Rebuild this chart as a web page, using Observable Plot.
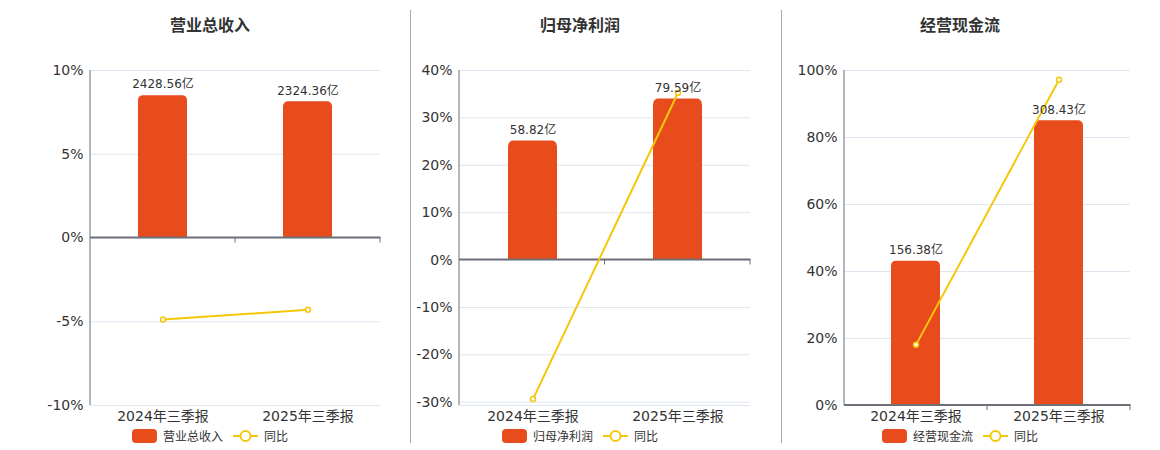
<!DOCTYPE html>
<html>
<head>
<meta charset="utf-8">
<script src="https://cdn.jsdelivr.net/npm/d3@7"></script>
<script src="https://cdn.jsdelivr.net/npm/@observablehq/plot@0.6"></script>
<style>
  html, body { margin: 0; padding: 0; background: #fff; }
  body { width: 1160px; height: 450px; position: relative; overflow: hidden;
         font-family: "DejaVu Sans", "Noto Sans CJK SC", sans-serif; color: #333; }
  .title { position: absolute; top: 12px; font-size: 16px; font-weight: bold; color: #333;
           transform: translateX(-50%); white-space: nowrap; font-family: "Noto Sans CJK SC", sans-serif; }
  .sep { position: absolute; top: 10px; height: 433px; width: 1px; background: #aaa; }
  .panel { position: absolute; top: 50px; }
  .legend { position: absolute; top: 429px; transform: translateX(-50%); display: flex; align-items: center;
            font-size: 12px; color: #333; white-space: nowrap; font-family: "Noto Sans CJK SC", sans-serif; }
  .legend svg { display: block; }
  .legend .lbl { margin-left: 6px; margin-right: 10px; line-height: 14px; }
</style>
</head>
<body>
<script>
// ---- data ----
const categories = ["2024年三季报", "2025年三季报"];

const revenueTitle = "营业总收入";
const revenueValues = [2428.56, 2324.36];
const revenueYoY = [-4.86, -4.29];
const revenueTicks = [-10, -5, 0, 5, 10];
const revenueDomain = [-10, 10];

const profitTitle = "归母净利润";
const profitValues = [58.82, 79.59];
const profitYoY = [-29.35, 35.31];
const profitTicks = [-30, -20, -10, 0, 10, 20, 30, 40];
const profitDomain = [-30.7, 40];

const cashTitle = "经营现金流";
const cashValues = [156.38, 308.43];
const cashYoY = [18.1, 97.23];
const cashTicks = [0, 20, 40, 60, 80, 100];
const cashDomain = [0, 100];

const yoyLabel = "同比";
const unit = "亿";

// ---- styles ----
const barColor = "#e84b1c";
const lineColor = "#f5c70a";
const axisColor = "#6e7079";
const gridColor = "#e0e6f1";

function axesMark(index, scales, values, dims) {
  const g = d3.create("svg:g");
  const L = dims.marginLeft, R = dims.width - dims.marginRight;
  const T = dims.marginTop, B = dims.height - dims.marginBottom;
  const y0 = scales.y(0);
  const n = categories.length;
  g.append("line").attr("x1", L).attr("x2", L).attr("y1", T).attr("y2", B)
    .attr("stroke", axisColor).attr("stroke-width", 1);
  g.append("line").attr("x1", L).attr("x2", R + 0.5).attr("y1", y0).attr("y2", y0)
    .attr("stroke", axisColor).attr("stroke-width", 2);
  for (let i = 1; i <= n; i++) {
    const x = L + i * (R - L) / n;
    g.append("line").attr("x1", x).attr("x2", x).attr("y1", y0).attr("y2", y0 + 5)
      .attr("stroke", axisColor).attr("stroke-width", 1);
  }
  return g.node();
}

function makeChart(cfg) {
  const maxV = d3.max(cfg.values);
  const k = cfg.domain[1] / (maxV / 0.85);
  const rows = categories.map((c, i) => ({cat: c, value: cfg.values[i], yoy: cfg.yoy[i], scaled: cfg.values[i] * k}));
  const step = (cfg.width - cfg.marginLeft - cfg.marginRight) / categories.length;
  const inset = (step - 49) / 2;
  const chart = Plot.plot({
    width: cfg.width,
    height: 380,
    marginTop: 20,
    marginBottom: 25,
    marginLeft: cfg.marginLeft,
    marginRight: cfg.marginRight,
    style: {color: "#333", background: "transparent", fontFamily: '"DejaVu Sans", "Noto Sans CJK SC", sans-serif', overflow: "visible"},
    x: {domain: categories, padding: 0, axis: null},
    y: {domain: cfg.domain, nice: false},
    marks: [
      Plot.ruleY(cfg.ticks, {stroke: gridColor, strokeWidth: 1}),
      Plot.ruleY([cfg.domain[0]], {stroke: gridColor, strokeWidth: 1}),
      Plot.axisY({ticks: cfg.ticks, tickFormat: d => d + "%", tickSize: 0, tickPadding: 7, fontSize: 14, fill: "#333"}),
      Plot.barY(rows, {x: "cat", y: "scaled", fill: barColor, rx: 5, insetLeft: inset, insetRight: inset}),
      Plot.barY(rows, {x: "cat", y: "scaled", fill: barColor, insetLeft: inset, insetRight: inset, insetTop: 6, shapeRendering: "crispEdges"}),
      axesMark,
      Plot.line(rows, {x: "cat", y: "yoy", stroke: lineColor, strokeWidth: 2}),
      Plot.dot(rows, {x: "cat", y: "yoy", r: 2.5, fill: "#fff", stroke: lineColor, strokeWidth: 1.5}),
      Plot.text(rows, {x: "cat", y: "scaled", text: d => d.value.toFixed(2) + unit, dy: -11, fontSize: 12, fill: "#333"}),
      Plot.text(categories, {x: d => d, frameAnchor: "bottom", dy: 15, fontSize: 14, fill: "#333"})
    ]
  });
  const panel = document.createElement("div");
  panel.className = "panel";
  panel.style.left = cfg.left + "px";
  panel.appendChild(chart);
  document.body.appendChild(panel);

  const t = document.createElement("div");
  t.className = "title";
  t.style.left = cfg.titleX + "px";
  t.textContent = cfg.title;
  document.body.appendChild(t);

  const lg = document.createElement("div");
  lg.className = "legend";
  lg.style.left = cfg.titleX + "px";
  lg.innerHTML =
    `<svg width="25" height="14"><rect x="0" y="0" width="25" height="14" rx="4" fill="${barColor}"/></svg>` +
    `<span class="lbl">${cfg.title}</span>` +
    `<svg width="25" height="14"><line x1="0" x2="25" y1="7" y2="7" stroke="${lineColor}" stroke-width="2"/>` +
    `<circle cx="12.5" cy="7" r="5" fill="#fff" stroke="${lineColor}" stroke-width="2"/></svg>` +
    `<span class="lbl" style="margin-right:0">${yoyLabel}</span>`;
  document.body.appendChild(lg);
}

makeChart({title: revenueTitle, values: revenueValues, yoy: revenueYoY, ticks: revenueTicks, domain: revenueDomain,
           left: 0, width: 400, marginLeft: 90, marginRight: 20, titleX: 210});
makeChart({title: profitTitle, values: profitValues, yoy: profitYoY, ticks: profitTicks, domain: profitDomain,
           left: 400, width: 380, marginLeft: 59, marginRight: 30, titleX: 580});
makeChart({title: cashTitle, values: cashValues, yoy: cashYoY, ticks: cashTicks, domain: cashDomain,
           left: 780, width: 380, marginLeft: 64, marginRight: 30, titleX: 960});

for (const x of [410, 781]) {
  const s = document.createElement("div");
  s.className = "sep";
  s.style.left = x + "px";
  document.body.appendChild(s);
}
</script>
</body>
</html>
